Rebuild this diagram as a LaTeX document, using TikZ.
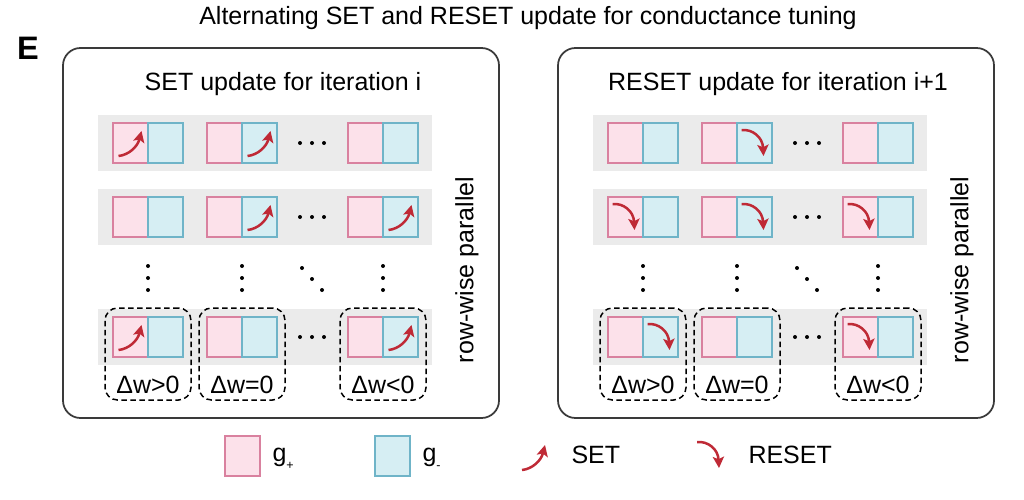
\documentclass[tikz,border=0pt]{standalone}
\usepackage{fontspec}
\setmainfont{Liberation Sans}
\usetikzlibrary{arrows.meta, positioning}
\definecolor{cpinkf}{HTML}{FCE1EA}
\definecolor{cpinkd}{HTML}{D9819F}
\definecolor{cbluef}{HTML}{D6EEF3}
\definecolor{cblued}{HTML}{6FB4C8}
\definecolor{cband}{HTML}{EBEBEB}
\definecolor{cred}{HTML}{BF2A36}
\definecolor{cframe}{HTML}{3A3A3A}
\tikzset{
  every picture/.style={font=\fontsize{10}{12}\selectfont},
  panel/.style={draw=cframe, line width=0.7pt, rounded corners=7pt},
  band/.style={fill=cband},
  cellp/.style={draw=cpinkd, fill=cpinkf, line width=0.8pt, minimum width=14pt, minimum height=16pt, inner sep=0pt, outer sep=0pt},
  cellm/.style={cellp, draw=cblued, fill=cbluef},
  grp/.style={draw, line width=0.6pt, dash pattern=on 2.2pt off 1.4pt, rounded corners=5pt, minimum width=34.4pt, minimum height=36.8pt, inner sep=0pt},
  updarrow/.style={draw=cred, line width=1pt, -{Stealth[length=4.5pt, width=4.5pt, inset=1pt]}},
  pics/setmark/.style={code={\draw[updarrow] (-12,13) .. controls (-2,12) and (7,4) .. (11,-12);}},
  pics/resetmark/.style={code={\draw[updarrow] (-13,-13) .. controls (-2,-14) and (8,-6) .. (9,13);}},
  legend/.style={anchor=west, inner sep=0pt},
}
\begin{document}
\begin{tikzpicture}[x=0.4pt, y=-0.4pt]
  \useasboundingbox (0,0) rectangle (1024,499);
  \node[font=\bfseries\fontsize{13}{15}\selectfont] (lblE) at (28,48) {E};
  \node (title) at (528,18) {Alternating SET and RESET update for conductance tuning};
  \foreach \px/\side in {0/L, 495/R} {
    \draw[panel] (63+\px,48) rectangle (499+\px,418);
    \foreach \y/\r in {143/1, 217/2, 337/4} {
      \fill[band] (98+\px,\y-28) rectangle (432+\px,\y+28);
      \foreach \x/\c in {130.5/a, 224.5/b, 365.5/c} {
        \node[cellp] (\side\r\c p) at (\x+\px,\y) {};
        \node[cellm, right=0pt of \side\r\c p] (\side\r\c m) {};
      }
      \foreach \i in {0,1,2}
        \fill (300+\px+12*\i,\y) circle (0.8pt);
    }
    \foreach \x/\c in {148/a, 242/b, 383/c} {
      \foreach \i in {0,1,2}
        \fill (\x+\px,266+12*\i) circle (0.8pt);
      \node[grp] (\side g\c) at (\x+\px,354) {};
    }
    \foreach \i in {0,1,2}
      \fill (302+\px+10*\i,268+11*\i) circle (0.8pt);
    \node[rotate=90] (\side par) at (467+\px,270) {row-wise parallel};
  }
  \node (Ltitle) at (283,84) {SET update for iteration i};
  \node (Rtitle) at (778,84) {RESET update for iteration i+1};
  \foreach \side in {L,R} {
    \node at (\side ga |- 0,385) {Δw>0};
    \node at (\side gb |- 0,385) {Δw=0};
    \node at (\side gc |- 0,385) {Δw<0};
  }
  \foreach \c in {L1ap, L1bm, L2bm, L2cm, L4ap, L4cm}
    \pic at (\c) {setmark};
  \foreach \c in {R1bm, R2ap, R2bm, R2cp, R4am, R4cp}
    \pic at (\c) {resetmark};
  \node[cellp] (lgp) at (242,456) {};
  \node[legend] (lgptext) at (272,459) {g\raisebox{-3pt}{\tiny +}};
  \node[cellm] (lgm) at (392,456) {};
  \node[legend] (lgmtext) at (422,459) {g\raisebox{-3pt}{\tiny -}};
  \coordinate (lgset) at (534,457);
  \pic at (lgset) {setmark};
  \node[legend] (lgsettext) at (571,455) {SET};
  \coordinate (lgreset) at (710,455);
  \pic at (lgreset) {resetmark};
  \node[legend] (lgresettext) at (748,455) {RESET};
\end{tikzpicture}
\end{document}
